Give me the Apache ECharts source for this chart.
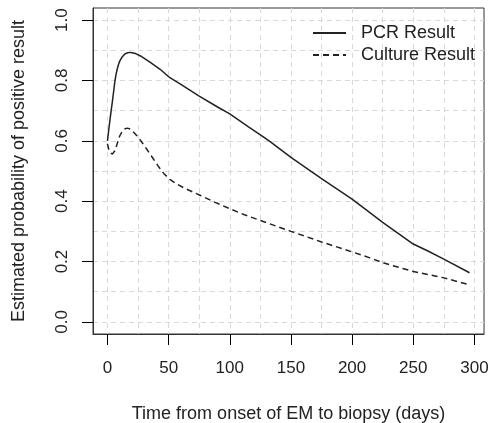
<!DOCTYPE html>
<html>
<head>
<meta charset="utf-8">
<script src="https://cdn.jsdelivr.net/npm/echarts@6/dist/echarts.min.js"></script>
<style>
html,body{margin:0;padding:0;background:#fff;}
#chart{width:491px;height:423px;}
</style>
</head>
<body>
<div id="chart"></div>
<script>
var seriesNames = ['PCR Result', 'Culture Result'];
var pcrDays = [0, 1, 2, 3, 4, 5, 6, 7, 8, 9, 10, 12, 14, 16, 18, 20, 23, 27, 35, 43, 51, 60, 75, 90, 100, 115, 125, 133, 150, 175, 200, 225, 250, 262, 275, 296];
var pcrProb = [0.600, 0.635, 0.668, 0.700, 0.730, 0.762, 0.795, 0.820, 0.838, 0.853, 0.864, 0.878, 0.887, 0.891, 0.893, 0.892, 0.889, 0.881, 0.860, 0.837, 0.809, 0.787, 0.748, 0.712, 0.689, 0.647, 0.620, 0.597, 0.545, 0.475, 0.407, 0.330, 0.258, 0.235, 0.208, 0.163];
var cultureDays = [0, 1, 2, 3, 4, 5, 6, 7, 8, 9, 10, 12, 14, 16, 18, 20, 22, 24, 28, 32, 37, 42, 46, 51, 57, 63, 70, 76, 88, 100, 112, 125, 141, 150, 175, 200, 214, 226, 250, 275, 296];
var cultureProb = [0.590, 0.572, 0.562, 0.557, 0.556, 0.559, 0.567, 0.578, 0.591, 0.604, 0.616, 0.631, 0.639, 0.642, 0.640, 0.634, 0.626, 0.617, 0.596, 0.573, 0.543, 0.513, 0.492, 0.472, 0.456, 0.443, 0.430, 0.419, 0.396, 0.375, 0.355, 0.336, 0.313, 0.300, 0.265, 0.232, 0.213, 0.195, 0.167, 0.146, 0.123];
var xTickValues = [0, 50, 100, 150, 200, 250, 300];
var xGridValues = [0, 25, 50, 75, 100, 125, 150, 175, 200, 225, 250, 275, 300];
var yTickValues = [0, 0.2, 0.4, 0.6, 0.8, 1.0];
var yGridValues = [0, 0.1, 0.2, 0.3, 0.4, 0.5, 0.6, 0.7, 0.8, 0.9, 1.0];
var xTitle = 'Time from onset of EM to biopsy (days)';
var yTitle = 'Estimated probability of positive result';

var xMin = -11.84, xMax = 307.84, yMin = -0.04, yMax = 1.04;

function pairs(xs, ys) { return xs.map(function (x, i) { return [x, ys[i]]; }); }

var font = 'Liberation Sans, Arial, sans-serif';
var chart = echarts.init(document.getElementById('chart'), null, {renderer: 'canvas'});
chart.setOption({
  animation: false,
  backgroundColor: '#fff',
  grid: {left: 93, right: 7, top: 8, bottom: 89, show: true, borderColor: '#333', borderWidth: 1,
    backgroundColor: 'transparent', containLabel: false, outerBoundsMode: 'none'},
  legend: {
    orient: 'vertical', left: 307, top: 19, itemWidth: 33, itemHeight: 14, itemGap: 4,
    data: seriesNames,
    itemStyle: {opacity: 0},
    textStyle: {fontFamily: font, fontSize: 18, color: '#222', padding: [0, 0, 0, 10]},
    inactiveColor: '#222'
  },
  xAxis: [{
    type: 'value', min: xMin, max: xMax, position: 'bottom',
    name: xTitle, nameLocation: 'middle', nameGap: 71,
    nameTextStyle: {fontFamily: font, fontSize: 18, color: '#222'},
    axisLine: {show: true, onZero: false, lineStyle: {color: '#333', width: 1}},
    axisTick: {show: true, length: 11, lineStyle: {color: '#000', width: 1}, customValues: xTickValues},
    axisLabel: {show: true, fontFamily: font, fontSize: 17, color: '#222', margin: 26, customValues: xTickValues},
    splitLine: {show: false}
  }, {
    type: 'value', min: xMin, max: xMax, position: 'top',
    axisLine: {show: false, onZero: false}, axisLabel: {show: false, customValues: xGridValues},
    axisTick: {show: false, customValues: xGridValues},
    splitLine: {show: true, lineStyle: {color: '#d9d9d9', type: [5, 4], width: 1}}
  }],
  yAxis: [{
    type: 'value', min: yMin, max: yMax, position: 'left',
    name: yTitle, nameLocation: 'middle', nameGap: 65,
    nameTextStyle: {fontFamily: font, fontSize: 18, color: '#222'},
    axisLine: {show: true, onZero: false, lineStyle: {color: '#333', width: 1}},
    axisTick: {show: true, length: 11, lineStyle: {color: '#000', width: 1}, customValues: yTickValues},
    axisLabel: {show: true, fontFamily: font, fontSize: 17, color: '#222', margin: 22, rotate: 90,
      customValues: yTickValues, formatter: function (v) { return v.toFixed(1); }},
    splitLine: {show: false}
  }, {
    type: 'value', min: yMin, max: yMax, position: 'right',
    axisLine: {show: false, onZero: false}, axisLabel: {show: false, customValues: yGridValues},
    axisTick: {show: false, customValues: yGridValues},
    splitLine: {show: true, lineStyle: {color: '#d9d9d9', type: [5, 4], width: 1}}
  }],
  series: [{
    name: seriesNames[0], type: 'line', xAxisIndex: 0, yAxisIndex: 0,
    data: pairs(pcrDays, pcrProb), symbol: 'none', smooth: false,
    lineStyle: {color: '#222', width: 1.5, type: 'solid'}, itemStyle: {color: '#222'}, z: 5
  }, {
    name: seriesNames[1], type: 'line', xAxisIndex: 0, yAxisIndex: 0,
    data: pairs(cultureDays, cultureProb), symbol: 'none', smooth: false,
    lineStyle: {color: '#222', width: 1.5, type: [6, 4]}, itemStyle: {color: '#222'}, z: 5
  }]
});
</script>
</body>
</html>
